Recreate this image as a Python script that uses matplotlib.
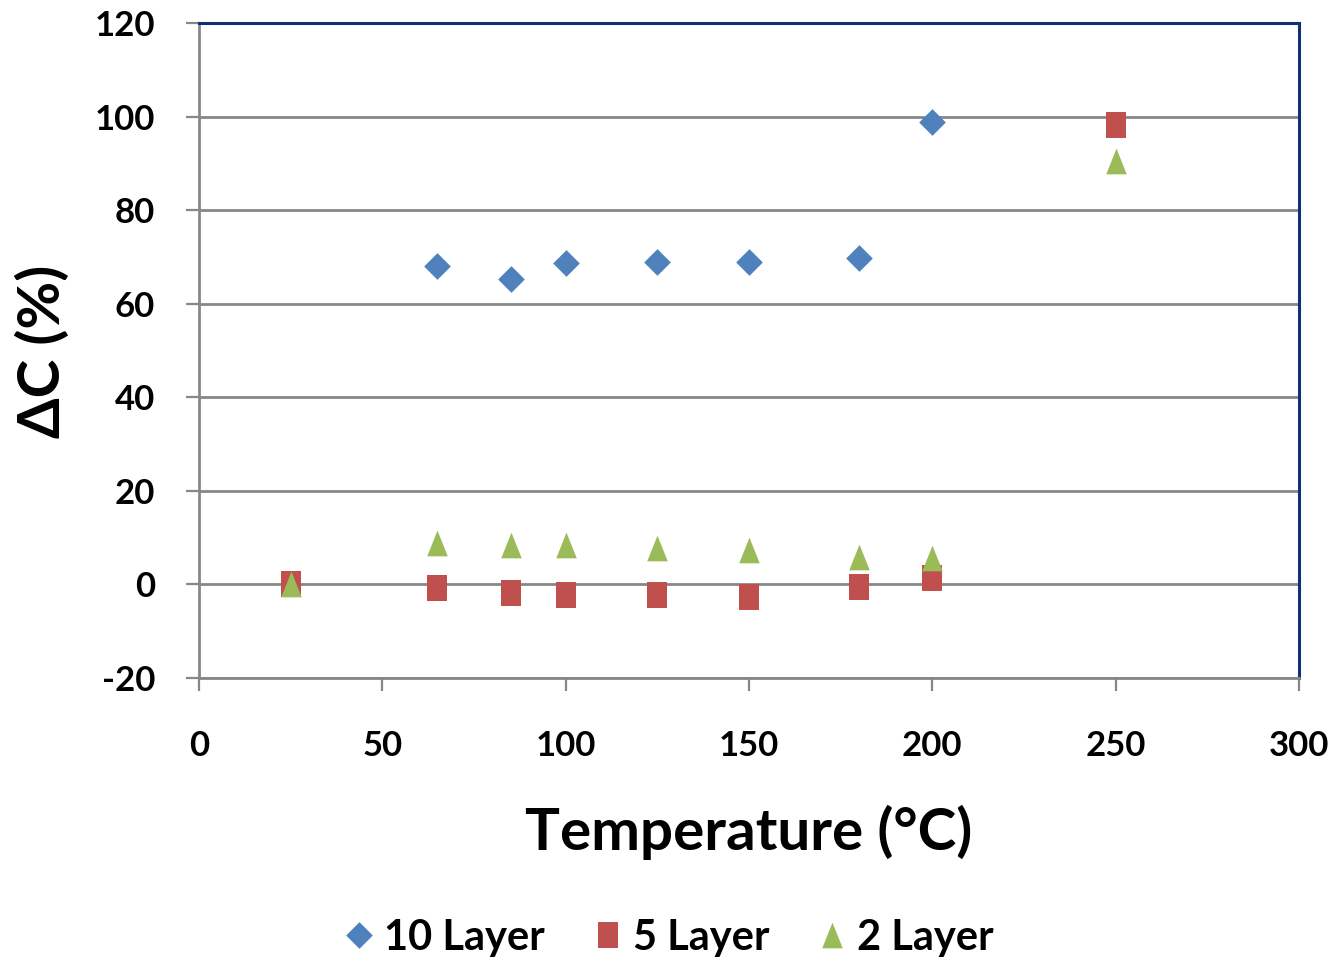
import matplotlib
matplotlib.use("Agg")
import matplotlib.pyplot as plt
from matplotlib.path import Path
from matplotlib.lines import Line2D

# Measured capacitance change vs. temperature for three layer counts
temp_10 = [65, 85, 100, 125, 150, 180, 200]
layer10 = [68.0, 65.3, 68.7, 69.0, 69.0, 69.7, 98.9]
temp_5_2 = [25, 65, 85, 100, 125, 150, 180, 200, 250]
layer5 = [0.0, -0.8, -1.9, -2.2, -2.35, -2.6, -0.55, 1.4, 98.2]
layer2 = [0.0, 8.9, 8.4, 8.4, 7.7, 7.3, 5.8, 5.6, 90.5]

series_names = ["10 Layer", "5 Layer", "2 Layer"]
x_ticks = [0, 50, 100, 150, 200, 250, 300]
y_ticks = [-20, 0, 20, 40, 60, 80, 100, 120]

BLUE = "#4F81BD"
RED = "#C0504D"
GREEN = "#9BBB59"
NAVY = "#12307A"
GRAY = "#878787"

FONT = "Lato"

# Marker shapes (tall rectangle, diamond, triangle)
diamond = Path([(0, 0.5), (0.5, 0), (0, -0.5), (-0.5, 0), (0, 0.5)],
               [Path.MOVETO, Path.LINETO, Path.LINETO, Path.LINETO, Path.CLOSEPOLY])
rect = Path([(-0.385, -0.5), (0.385, -0.5), (0.385, 0.5), (-0.385, 0.5), (-0.385, -0.5)],
            [Path.MOVETO, Path.LINETO, Path.LINETO, Path.LINETO, Path.CLOSEPOLY])
tri = Path([(0, 0.5), (0.4, -0.5), (-0.4, -0.5), (0, 0.5)],
           [Path.MOVETO, Path.LINETO, Path.LINETO, Path.CLOSEPOLY])

fig = plt.figure(figsize=(13.4, 9.65), dpi=100)
ax = fig.add_axes([199 / 1340, 1 - 678 / 965, 1100 / 1340, 655 / 965])

ax.plot(temp_10, layer10, linestyle="none", marker=diamond, markersize=19.2,
        color=BLUE, markeredgewidth=0, zorder=3)
ax.plot(temp_5_2, layer5, linestyle="none", marker=rect, markersize=19.2,
        color=RED, markeredgewidth=0, zorder=4)
ax.plot(temp_5_2, layer2, linestyle="none", marker=tri, markersize=18.5,
        color=GREEN, markeredgewidth=0, zorder=5)

ax.set_xlim(0, 300)
ax.set_ylim(-20, 120)
ax.set_xticks(x_ticks)
ax.set_yticks(y_ticks)
ax.set_xticklabels([str(v) for v in x_ticks])
ax.set_yticklabels([str(v) for v in y_ticks])

ax.yaxis.grid(True, color=GRAY, linewidth=2.0, zorder=1)
ax.set_axisbelow(True)

for side in ("left", "bottom"):
    ax.spines[side].set_color(GRAY)
    ax.spines[side].set_linewidth(2.0)
for side in ("top", "right"):
    ax.spines[side].set_color(NAVY)
    ax.spines[side].set_linewidth(2.2)

ax.tick_params(axis="both", direction="out", length=9.5, width=1.6, color=GRAY,
               labelsize=25)
ax.tick_params(axis="y", pad=22)
ax.tick_params(axis="x", pad=28)
for lab in ax.get_xticklabels() + ax.get_yticklabels():
    lab.set_fontfamily(FONT)
    lab.set_fontweight("bold")

fig.text(749 / 1340, 1 - 832 / 965, "Temperature (°C)", ha="center", va="center",
         fontsize=42, fontweight="bold", fontfamily=FONT)
fig.text(43 / 1340, 1 - 351 / 965, "ΔC (%)", ha="center", va="center", rotation=90,
         fontsize=42, fontweight="bold", fontfamily=FONT)

handles = [
    Line2D([], [], linestyle="none", marker=diamond, markersize=19.2, color=BLUE, markeredgewidth=0),
    Line2D([], [], linestyle="none", marker=rect, markersize=19.2, color=RED, markeredgewidth=0),
    Line2D([], [], linestyle="none", marker=tri, markersize=18.5, color=GREEN, markeredgewidth=0),
]
fig.legend(handles, series_names, loc="center", bbox_to_anchor=(670 / 1340, 1 - 938 / 965),
           ncol=3, frameon=False, handlelength=0.6, handletextpad=0.3, columnspacing=1.2,
           prop={"family": FONT, "weight": "bold", "size": 30})

fig.savefig("out.png", dpi=100, facecolor="white")
